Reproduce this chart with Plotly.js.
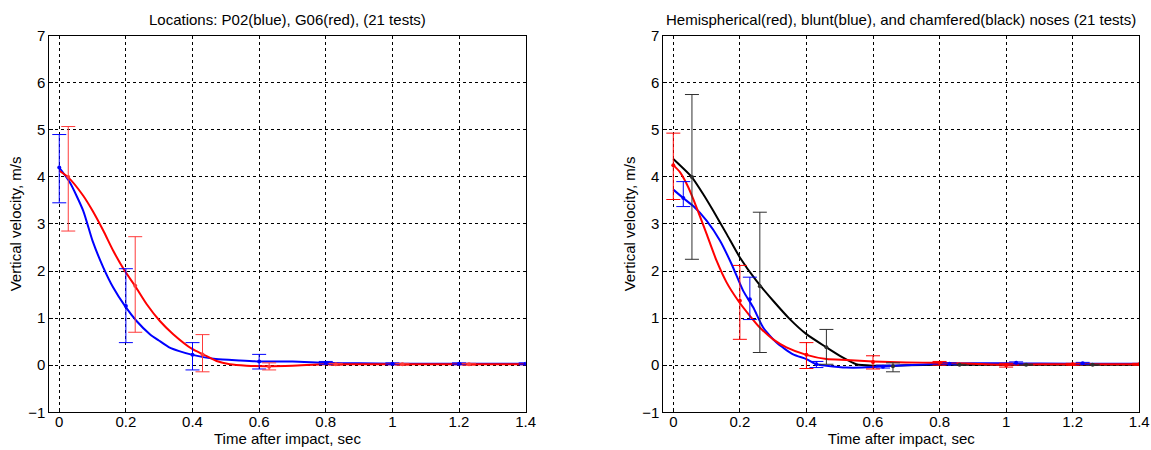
<!DOCTYPE html>
<html>
<head>
<meta charset="utf-8">
<script src="https://cdn.plot.ly/plotly-3.0.1.min.js"></script>
<style>
  html, body { margin: 0; padding: 0; background: #fff; }
  #chart { width: 1151px; height: 450px; }
</style>
</head>
<body>
<div id="chart"></div>
<script>
// ---------------- Left panel: Locations P02 (blue), G06 (red) ----------------
const tP02 = [0, 0.032, 0.072, 0.10, 0.132, 0.162, 0.197, 0.232, 0.272, 0.30, 0.33, 0.36, 0.40, 0.47, 0.54, 0.60, 0.70, 0.80, 0.90, 1.0, 1.1, 1.2, 1.3, 1.4];
const vP02 = [4.2, 3.88, 3.28, 2.64, 2.08, 1.65, 1.26, 0.94, 0.66, 0.52, 0.38, 0.30, 0.22, 0.13, 0.10, 0.08, 0.08, 0.05, 0.04, 0.03, 0.03, 0.03, 0.03, 0.03];
const errP02_t = [0, 0.2, 0.4, 0.6, 0.8, 1.0, 1.2, 1.4];
const errP02_mean = [4.2, 1.26, 0.22, 0.08, 0.05, 0.03, 0.03, 0.03];
const errP02_low = [3.45, 0.48, -0.10, -0.08, 0.02, 0.01, 0.01, 0.01];
const errP02_high = [4.90, 2.05, 0.48, 0.23, 0.08, 0.05, 0.05, 0.05];

const tG06 = [0, 0.027, 0.072, 0.10, 0.132, 0.162, 0.197, 0.227, 0.262, 0.302, 0.342, 0.40, 0.432, 0.472, 0.512, 0.562, 0.62, 0.70, 0.80, 0.90, 1.0, 1.2, 1.4];
const vG06 = [4.13, 3.99, 3.6, 3.28, 2.86, 2.43, 2.0, 1.69, 1.30, 0.94, 0.66, 0.34, 0.23, 0.09, 0.02, -0.01, -0.02, -0.01, 0.02, 0.02, 0.02, 0.02, 0.02];
const errG06_t = [0.027, 0.228, 0.43, 0.63, 0.83, 1.03, 1.23];
const errG06_mean = [4.0, 1.69, 0.23, -0.03, 0.02, 0.02, 0.02];
const errG06_low = [2.85, 0.70, -0.14, -0.10, 0.0, 0.0, 0.0];
const errG06_high = [5.07, 2.73, 0.65, 0.05, 0.04, 0.04, 0.04];

// ---------------- Right panel: Hemispherical (red), blunt (blue), chamfered (black) ----------------
const tHemi = [0, 0.02, 0.045, 0.07, 0.10, 0.13, 0.16, 0.195, 0.23, 0.26, 0.30, 0.34, 0.40, 0.46, 0.52, 0.60, 0.70, 0.80, 0.90, 1.0, 1.1, 1.2, 1.4];
const vHemi = [4.25, 4.1, 3.78, 3.35, 2.79, 2.22, 1.76, 1.37, 1.05, 0.80, 0.55, 0.38, 0.22, 0.13, 0.11, 0.08, 0.06, 0.05, 0.03, 0.01, 0.02, 0.02, 0.02];
const errHemi_t = [0, 0.2, 0.4, 0.6, 0.8, 1.0, 1.2, 1.4];
const errHemi_mean = [4.25, 1.37, 0.22, 0.07, 0.05, 0.0, 0.02, 0.02];
const errHemi_low = [3.52, 0.55, -0.07, -0.08, 0.0, -0.04, 0.0, 0.0];
const errHemi_high = [4.93, 2.12, 0.48, 0.20, 0.08, 0.04, 0.04, 0.04];

const tBlunt = [0, 0.03, 0.06, 0.10, 0.14, 0.175, 0.21, 0.24, 0.27, 0.31, 0.36, 0.40, 0.43, 0.46, 0.52, 0.60, 0.65, 0.70, 0.80, 0.90, 1.0, 1.2, 1.4];
const vBlunt = [3.73, 3.55, 3.38, 3.07, 2.65, 2.15, 1.58, 1.23, 0.80, 0.48, 0.23, 0.13, 0.02, -0.01, -0.05, -0.04, -0.01, 0.0, 0.03, 0.04, 0.04, 0.03, 0.03];
const errBlunt_t = [0.03, 0.23, 0.43, 0.63, 0.83, 1.03, 1.23];
const errBlunt_mean = [3.55, 1.40, 0.02, -0.03, 0.03, 0.05, 0.04];
const errBlunt_low = [3.37, 0.97, -0.05, -0.06, 0.01, 0.03, 0.02];
const errBlunt_high = [3.90, 1.87, 0.08, 0.0, 0.05, 0.07, 0.06];

const tCham = [0, 0.055, 0.09, 0.12, 0.16, 0.20, 0.25, 0.30, 0.35, 0.40, 0.46, 0.51, 0.55, 0.60, 0.66, 0.70, 0.80, 0.90, 1.0, 1.2, 1.4];
const vCham = [4.38, 4.0, 3.63, 3.28, 2.79, 2.29, 1.79, 1.37, 0.98, 0.66, 0.38, 0.16, 0.02, -0.01, -0.01, 0.0, 0.01, 0.01, 0.01, 0.01, 0.01];
const errCham_t = [0.056, 0.26, 0.46, 0.66, 0.86, 1.06, 1.26];
const errCham_mean = [4.0, 1.68, 0.38, -0.02, 0.01, 0.01, 0.01];
const errCham_low = [2.25, 0.27, 0.02, -0.14, 0.0, 0.0, 0.0];
const errCham_high = [5.75, 3.25, 0.76, 0.05, 0.02, 0.02, 0.02];

// ---------------- Text ----------------
const titleLeft = "Locations: P02(blue), G06(red), (21 tests)";
const titleRight = "Hemispherical(red), blunt(blue), and chamfered(black) noses (21 tests)";
const xLabel = "Time after impact, sec";
const yLabel = "Vertical velocity, m/s";

const FONT = "Liberation Sans Narrow, Arial Narrow, Liberation Sans, Arial, sans-serif";
const FS = 15;

function curve(t, v, color, xa, ya, name) {
  return { type: 'scatter', mode: 'lines', x: t, y: v, xaxis: xa, yaxis: ya, name: name,
           line: { color: color, width: 2, shape: 'spline', smoothing: 0.6 }, hoverinfo: 'x+y', showlegend: false };
}
function errs(t, m, lo, hi, color, xa, ya, name) {
  return { type: 'scatter', mode: 'markers', x: t, y: m, xaxis: xa, yaxis: ya, name: name,
           marker: { color: color, size: 4 }, showlegend: false,
           error_y: { type: 'data', symmetric: false,
                      array: hi.map((h, i) => h - m[i]),
                      arrayminus: m.map((v, i) => v - lo[i]),
                      color: color, thickness: 1, width: 7 } };
}

const data = [
  curve(tP02, vP02, '#0000ff', 'x', 'y', 'P02'),
  curve(tG06, vG06, '#ff0000', 'x', 'y', 'G06'),
  errs(errP02_t, errP02_mean, errP02_low, errP02_high, '#0000ff', 'x', 'y', 'P02'),
  errs(errG06_t, errG06_mean, errG06_low, errG06_high, '#ff3b3b', 'x', 'y', 'G06'),
  curve(tCham, vCham, '#000000', 'x2', 'y2', 'chamfered'),
  curve(tBlunt, vBlunt, '#0000ff', 'x2', 'y2', 'blunt'),
  curve(tHemi, vHemi, '#ff0000', 'x2', 'y2', 'hemispherical'),
  errs(errCham_t, errCham_mean, errCham_low, errCham_high, '#303030', 'x2', 'y2', 'chamfered'),
  errs(errBlunt_t, errBlunt_mean, errBlunt_low, errBlunt_high, '#0000ff', 'x2', 'y2', 'blunt'),
  errs(errHemi_t, errHemi_mean, errHemi_low, errHemi_high, '#ff0000', 'x2', 'y2', 'hemispherical')
];

function xax(domain, anchor) {
  return { domain: domain, anchor: anchor, range: [-0.03, 1.4], tick0: 0, dtick: 0.2,
           showgrid: true, griddash: '3px,3px', gridcolor: '#000', gridwidth: 1, zeroline: false,
           showline: true, linecolor: '#000', linewidth: 1, mirror: true,
           ticks: 'inside', ticklen: 4, tickcolor: '#000', ticklabelstandoff: -4,
           tickfont: { family: FONT, size: FS, color: '#000' },
           title: { text: xLabel, font: { family: FONT, size: FS, color: '#000' }, standoff: 4 },
           automargin: false, fixedrange: true };
}
function yax(domain, anchor) {
  return { domain: domain, anchor: anchor, range: [-1, 7], tick0: -1, dtick: 1,
           showgrid: true, griddash: '3px,3px', gridcolor: '#000', gridwidth: 1, zeroline: false,
           showline: true, linecolor: '#000', linewidth: 1, mirror: true,
           ticks: 'inside', ticklen: 4, tickcolor: '#000',
           tickfont: { family: FONT, size: FS, color: '#000' },
           title: { text: yLabel, font: { family: FONT, size: FS, color: '#000' }, standoff: 2 },
           automargin: false, fixedrange: true };
}

const yDom = [0.0838, 0.9207];
const layout = {
  width: 1151, height: 450,
  margin: { l: 0, r: 0, t: 0, b: 0 },
  paper_bgcolor: '#fff', plot_bgcolor: '#fff',
  font: { family: FONT, size: FS, color: '#000' },
  showlegend: false,
  xaxis: xax([0.0428, 0.4567], 'y'),
  yaxis: yax(yDom, 'x'),
  xaxis2: xax([0.5763, 0.9898], 'y2'),
  yaxis2: yax(yDom, 'x2'),
  annotations: [
    { text: titleLeft, xref: 'paper', yref: 'paper', x: (0.0428 + 0.4567) / 2, y: 1 - 20 / 450,
      xanchor: 'center', yanchor: 'middle', showarrow: false, font: { family: FONT, size: FS, color: '#000' } },
    { text: titleRight, xref: 'paper', yref: 'paper', x: (0.5763 + 0.9898) / 2, y: 1 - 20 / 450,
      xanchor: 'center', yanchor: 'middle', showarrow: false, font: { family: FONT, size: FS, color: '#000' } }
  ]
};

Plotly.newPlot('chart', data, layout, { displayModeBar: false, staticPlot: true });
</script>
</body>
</html>
